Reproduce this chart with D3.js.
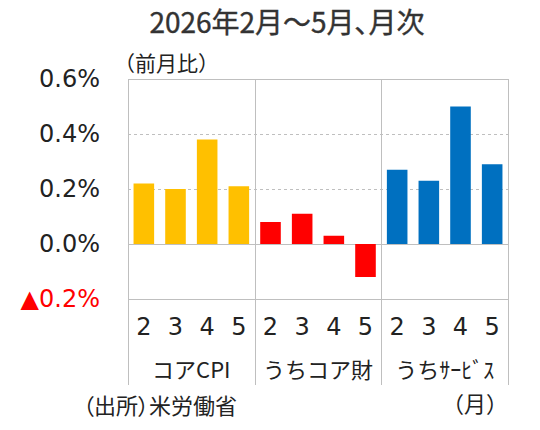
<!DOCTYPE html>
<meta charset="utf-8">
<script src="https://d3js.org/d3.v7.min.js"></script>
<style>
  body { margin: 0; background: #fff; }
  text { font-family: "Noto Sans CJK JP", sans-serif; }
</style>
<div id="chart"></div>
<script>

// data
var groups = ["コアCPI", "うちコア財", "うちｻｰﾋﾞｽ"];
var months = ["2", "3", "4", "5"];
var coreCPI = [0.22, 0.20, 0.38, 0.21];
var coreGoods = [0.08, 0.11, 0.03, -0.12];
var services = [0.27, 0.23, 0.50, 0.29];
var colors = ["#FFC000", "#FF0000", "#0070C0"];
var yTicks = [-0.2, 0, 0.2, 0.4, 0.6];

var series = [coreCPI, coreGoods, services];
var rows = [];
groups.forEach(function(g, gi) {
  months.forEach(function(m, mi) {
    rows.push({group: g, gi: gi, month: m, key: g + "-" + m, value: series[gi][mi]});
  });
});

var margin = {top: 79, right: 32, bottom: 131, left: 128},
    width = 540 - margin.left - margin.right,
    height = 430 - margin.top - margin.bottom;

var svgRoot = d3.select("#chart").append("svg")
    .attr("width", 540)
    .attr("height", 430);

// title
svgRoot.append("text")
    .attr("x", 287).attr("y", 33)
    .attr("text-anchor", "middle")
    .style("font-size", "28px")
    .style("font-feature-settings", "'palt'")
    .attr("fill", "#333")
    .attr("stroke", "#333")
    .attr("stroke-width", 0.4)
    .text("2026年2月～5月、月次");

svgRoot.append("text")
    .attr("x", 114).attr("y", 71)
    .style("font-size", "21px")
    .attr("fill", "#222")
    .text("（前月比）");

var svg = svgRoot.append("g")
    .attr("transform", "translate(" + margin.left + "," + margin.top + ")");

var x = d3.scaleBand()
    .domain(rows.map(function(d) { return d.key; }))
    .range([0, width])
    .paddingInner(0.35)
    .paddingOuter(0.175);

var xg = d3.scaleBand()
    .domain(groups)
    .range([0, width]);

var y = d3.scaleLinear()
    .domain([-0.2, 0.6])
    .range([height, 0]);

// gridlines
svg.append("g")
  .selectAll("line")
  .data(yTicks)
  .enter().append("line")
    .attr("x1", 0).attr("x2", width)
    .attr("y1", function(d) { return Math.round(y(d)) + 0.5; })
    .attr("y2", function(d) { return Math.round(y(d)) + 0.5; })
    .attr("stroke", "#bfbfbf")
    .attr("stroke-width", 1)
    .attr("stroke-dasharray", function(d) { return (d > 0 && d < 0.6) ? "3,3" : null; });

// y axis labels
var yAxis = svg.append("g")
    .call(d3.axisLeft(y).tickValues(yTicks).tickSize(0).tickPadding(28)
      .tickFormat(function(d) {
        return d < 0 ? "▲" + d3.format(".1f")(-d) + "%" : d3.format(".1f")(d) + "%";
      }));
yAxis.select(".domain").remove();
yAxis.selectAll("text")
    .style("font-family", "'DejaVu Sans', sans-serif")
    .style("font-size", "24px")
    .attr("fill", function(d) { return d < 0 ? "#FF0000" : "#222"; });

// bars
svg.append("g")
  .selectAll("rect")
  .data(rows)
  .enter().append("rect")
    .attr("x", function(d) { return x(d.key); })
    .attr("width", x.bandwidth())
    .attr("y", function(d) { return y(Math.max(0, d.value)); })
    .attr("height", function(d) { return Math.abs(y(d.value) - y(0)); })
    .attr("fill", function(d) { return colors[d.gi]; });

// plot frame verticals + group separators
var seps = [0].concat(groups.map(function(g) { return xg(g) + xg.bandwidth(); }));
svg.append("g")
  .selectAll("line")
  .data(seps)
  .enter().append("line")
    .attr("x1", function(d) { return Math.round(d) + 0.5; })
    .attr("x2", function(d) { return Math.round(d) + 0.5; })
    .attr("y1", 0).attr("y2", height + 86)
    .attr("stroke", "#bfbfbf");

// month labels
svg.append("g")
  .selectAll("text")
  .data(rows)
  .enter().append("text")
    .attr("x", function(d) { return x(d.key) + x.bandwidth() / 2; })
    .attr("y", height + 36)
    .attr("text-anchor", "middle")
    .style("font-family", "'DejaVu Sans', sans-serif")
    .style("font-size", "24px")
    .attr("fill", "#222")
    .text(function(d) { return d.month; });

// group labels
svg.append("g")
  .selectAll("text")
  .data(groups)
  .enter().append("text")
    .attr("x", function(d) { return xg(d) + xg.bandwidth() / 2; })
    .attr("y", height + 79)
    .attr("text-anchor", "middle")
    .style("font-size", "22px")
    .attr("fill", "#222")
    .text(function(d) { return d; });

// source and unit
svgRoot.append("text")
    .attr("x", 83).attr("y", 414)
    .style("font-size", "22px")
    .style("font-feature-settings", "'palt'")
    .attr("fill", "#222")
    .text("（出所）米労働省");

svgRoot.append("text")
    .attr("x", 508).attr("y", 412)
    .attr("text-anchor", "end")
    .style("font-size", "22px")
    .attr("fill", "#222")
    .text("（月）");

</script>
